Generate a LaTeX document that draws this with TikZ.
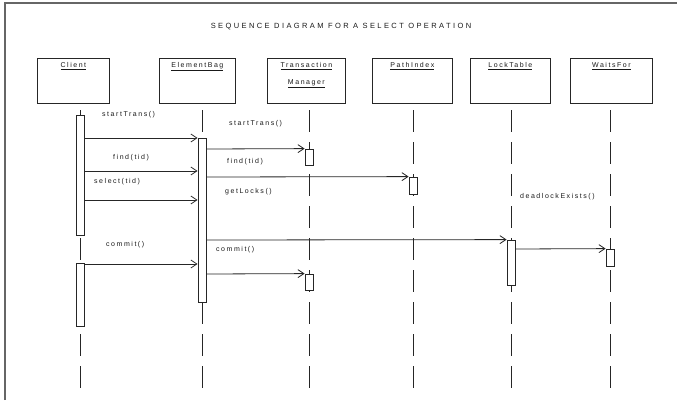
\documentclass[tikz,border=0pt]{standalone}
\usepackage{fontspec}
\usetikzlibrary{arrows.meta}
\newfontfamily\diagfont[LetterSpace=22]{Liberation Sans}
\newfontfamily\titlefont[LetterSpace=32]{Liberation Sans}
\begin{document}
\begin{tikzpicture}[x=1pt,y=-1pt,
  ink/.style={draw=black!85, line width=0.8pt},
  objbox/.style={ink, fill=white, minimum height=45pt, inner sep=0pt, anchor=north west},
  objlbl/.style={font=\diagfont\fontsize{7}{17}\selectfont, text=black!90, align=center, anchor=north, inner sep=0pt},
  lifeline/.style={draw=black!85, line width=0.7pt, dash pattern=on 22pt off 10pt},
  actbar/.style={ink, fill=white, minimum width=8pt, inner sep=0pt},
  msg/.style={ink, -{Straight Barb[length=6pt,width=8pt,line width=0.8pt]}},
  msglbl/.style={font=\diagfont\fontsize{7}{8}\selectfont, text=black!90, anchor=west, inner sep=0pt},
]
\useasboundingbox (0,0) rectangle (677,400);
% outer frame (left and top edges)
\draw[draw=black!60, line width=1.3pt] (5,400) -- (5,3) -- (677,3);
% title
\node[font=\titlefont\fontsize{7.5}{8}\selectfont, text=black!90, inner sep=0pt] (title) at (341,27)
  {SEQUENCE DIAGRAM FOR A SELECT OPERATION};

% object boxes
\node[objbox, minimum width=72pt] (client) at (37,58) {};
\node[objbox, minimum width=76pt] (ebag)   at (159,58) {};
\node[objbox, minimum width=78pt] (tman)   at (267,58) {};
\node[objbox, minimum width=80pt] (pidx)   at (372,58) {};
\node[objbox, minimum width=80pt] (ltab)   at (470,58) {};
\node[objbox, minimum width=82pt] (wfor)   at (570,58) {};
\node[objlbl, below=4pt] (clientL) at (client.north) {\underline{Client}};
\node[objlbl, below=4pt] (ebagL)   at (ebag.north)   {\underline{ElementBag}};
\node[objlbl, below=4pt] (tmanL)   at (tman.north)   {\underline{Transaction}\\\underline{Manager}};
\node[objlbl, below=4pt] (pidxL)   at (pidx.north)   {\underline{PathIndex}};
\node[objlbl, below=4pt] (ltabL)   at (ltab.north)   {\underline{LockTable}};
\node[objlbl, below=4pt] (wforL)   at (wfor.north)   {\underline{WaitsFor}};

% lifelines
\foreach \n/\x in {cl/80, eb/202, tm/309, pi/413, lt/511, wf/610}{
  \coordinate (\n-top) at (\x,110);
  \coordinate (\n-bot) at (\x,390);
  \draw[lifeline] (\n-top) -- (\n-bot);
}

% activation bars
\node[actbar, minimum height=120pt] (cl1) at (80,175) {};
\node[actbar, minimum height=63pt]  (cl2) at (80,294.5) {};
\node[actbar, minimum height=164pt] (eb1) at (202,220) {};
\node[actbar, minimum height=16pt]  (tm1) at (309,157) {};
\node[actbar, minimum height=16pt]  (tm2) at (309,282) {};
\node[actbar, minimum height=17pt]  (pi1) at (413,185.5) {};
\node[actbar, minimum height=45pt]  (lt1) at (511,262.5) {};
\node[actbar, minimum height=17pt]  (wf1) at (610,257.5) {};

% messages
\draw[msg] (cl1.east |- 0,138) -- (eb1.west |- 0,138);
\draw[msg] (eb1.east |- 0,149) -- (tm1.north west);
\draw[msg] (cl1.east |- 0,171) -- (eb1.west |- 0,171);
\draw[msg] (eb1.east |- 0,177) -- (pi1.north west);
\draw[msg] (cl1.east |- 0,200) -- (eb1.west |- 0,200);
\draw[msg] (eb1.east |- 0,240) -- (lt1.north west);
\draw[msg] (lt1.east |- 0,249) -- (wf1.north west);
\draw[msg] (cl2.east |- 0,264) -- (eb1.west |- 0,264);
\draw[msg] (eb1.east |- 0,274) -- (tm2.north west);

% message labels
\node[msglbl] (m1) at (102,115) {startTrans()};
\node[msglbl] (m2) at (229,124) {startTrans()};
\node[msglbl] (m3) at (113,158) {find(tid)};
\node[msglbl] (m4) at (227,162) {find(tid)};
\node[msglbl] (m5) at (94,182)  {select(tid)};
\node[msglbl] (m6) at (225,192) {getLocks()};
\node[msglbl] (m7) at (520,197) {deadlockExists()};
\node[msglbl] (m8) at (106,245) {commit()};
\node[msglbl] (m9) at (216,250) {commit()};
\end{tikzpicture}
\end{document}
